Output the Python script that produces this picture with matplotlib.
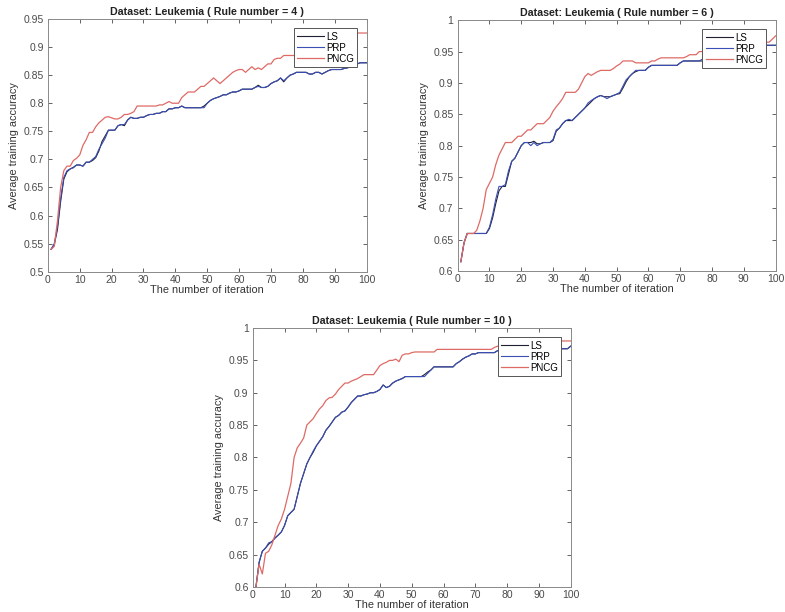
import numpy as np
import matplotlib.pyplot as plt
from matplotlib.ticker import FuncFormatter

plt.rcParams['font.family'] = ['Liberation Sans', 'DejaVu Sans']

iters = np.arange(1, 101)

# --- Rule number = 4 ---
ls_4 = [0.540, 0.548, 0.575, 0.625, 0.665, 0.678, 0.683, 0.686, 0.690, 0.690,
        0.688, 0.695, 0.695, 0.698, 0.703, 0.715, 0.732, 0.742, 0.752, 0.752,
        0.752, 0.760, 0.762, 0.760, 0.770, 0.775, 0.773, 0.773, 0.775, 0.775,
        0.778, 0.780, 0.780, 0.782, 0.782, 0.785, 0.785, 0.790, 0.790, 0.792,
        0.792, 0.795, 0.792, 0.792, 0.792, 0.792, 0.792, 0.792, 0.795, 0.800,
        0.805, 0.808, 0.810, 0.812, 0.815, 0.815, 0.818, 0.820, 0.820, 0.822,
        0.825, 0.825, 0.825, 0.825, 0.828, 0.832, 0.828, 0.828, 0.830, 0.835,
        0.838, 0.840, 0.845, 0.838, 0.845, 0.850, 0.852, 0.855, 0.855, 0.855,
        0.855, 0.852, 0.852, 0.855, 0.855, 0.852, 0.855, 0.858, 0.860, 0.860,
        0.860, 0.860, 0.862, 0.863, 0.865, 0.870, 0.870, 0.872, 0.872, 0.872]
prp_4 = [0.540, 0.550, 0.580, 0.630, 0.668, 0.680, 0.683, 0.685, 0.690, 0.690,
         0.688, 0.695, 0.695, 0.700, 0.705, 0.718, 0.728, 0.738, 0.752, 0.752,
         0.752, 0.760, 0.762, 0.762, 0.770, 0.775, 0.773, 0.773, 0.775, 0.775,
         0.778, 0.780, 0.780, 0.782, 0.782, 0.785, 0.785, 0.790, 0.790, 0.792,
         0.792, 0.795, 0.792, 0.792, 0.792, 0.792, 0.792, 0.792, 0.792, 0.800,
         0.805, 0.808, 0.810, 0.812, 0.815, 0.815, 0.818, 0.820, 0.820, 0.822,
         0.825, 0.825, 0.825, 0.825, 0.828, 0.830, 0.828, 0.828, 0.830, 0.835,
         0.838, 0.840, 0.845, 0.840, 0.845, 0.850, 0.852, 0.855, 0.855, 0.855,
         0.855, 0.852, 0.852, 0.855, 0.855, 0.852, 0.855, 0.858, 0.860, 0.860,
         0.860, 0.860, 0.862, 0.863, 0.865, 0.868, 0.870, 0.872, 0.872, 0.872]
pncg_4 = [0.540, 0.545, 0.590, 0.650, 0.680, 0.688, 0.688, 0.698, 0.702, 0.708,
          0.725, 0.735, 0.748, 0.748, 0.758, 0.765, 0.770, 0.775, 0.776, 0.774,
          0.772, 0.772, 0.775, 0.780, 0.780, 0.782, 0.785, 0.795, 0.795, 0.795,
          0.795, 0.795, 0.795, 0.795, 0.797, 0.797, 0.800, 0.803, 0.800, 0.800,
          0.800, 0.810, 0.815, 0.820, 0.820, 0.820, 0.825, 0.830, 0.830, 0.835,
          0.840, 0.845, 0.840, 0.835, 0.840, 0.845, 0.850, 0.855, 0.858, 0.860,
          0.860, 0.855, 0.860, 0.865, 0.860, 0.863, 0.860, 0.865, 0.870, 0.870,
          0.878, 0.880, 0.880, 0.885, 0.885, 0.885, 0.885, 0.885, 0.888, 0.890,
          0.892, 0.895, 0.897, 0.898, 0.900, 0.902, 0.905, 0.908, 0.910, 0.910,
          0.912, 0.915, 0.918, 0.920, 0.922, 0.925, 0.925, 0.925, 0.925, 0.925]

# --- Rule number = 6 ---
ls_6 = [0.615, 0.645, 0.660, 0.660, 0.660, 0.660, 0.660, 0.660, 0.660, 0.668,
        0.685, 0.708, 0.728, 0.735, 0.735, 0.755, 0.775, 0.780, 0.790, 0.800,
        0.805, 0.805, 0.805, 0.807, 0.803, 0.803, 0.805, 0.805, 0.805, 0.808,
        0.823, 0.828, 0.835, 0.840, 0.840, 0.840, 0.845, 0.850, 0.855, 0.860,
        0.865, 0.870, 0.875, 0.878, 0.880, 0.878, 0.878, 0.878, 0.880, 0.882,
        0.883, 0.892, 0.902, 0.910, 0.915, 0.918, 0.920, 0.920, 0.920, 0.925,
        0.928, 0.928, 0.928, 0.928, 0.928, 0.928, 0.928, 0.928, 0.928, 0.932,
        0.935, 0.935, 0.935, 0.935, 0.935, 0.935, 0.935, 0.935, 0.938, 0.940,
        0.940, 0.942, 0.945, 0.945, 0.948, 0.950, 0.950, 0.952, 0.952, 0.955,
        0.955, 0.955, 0.958, 0.958, 0.960, 0.960, 0.960, 0.960, 0.960, 0.960]
prp_6 = [0.615, 0.645, 0.660, 0.660, 0.660, 0.660, 0.660, 0.660, 0.660, 0.670,
         0.690, 0.715, 0.735, 0.735, 0.738, 0.760, 0.775, 0.780, 0.790, 0.800,
         0.805, 0.805, 0.800, 0.805, 0.800, 0.803, 0.805, 0.805, 0.805, 0.810,
         0.825, 0.828, 0.835, 0.840, 0.842, 0.840, 0.845, 0.850, 0.855, 0.860,
         0.868, 0.872, 0.875, 0.878, 0.880, 0.878, 0.875, 0.878, 0.880, 0.882,
         0.885, 0.895, 0.905, 0.910, 0.915, 0.920, 0.920, 0.920, 0.920, 0.925,
         0.928, 0.928, 0.928, 0.928, 0.928, 0.928, 0.928, 0.928, 0.928, 0.932,
         0.935, 0.935, 0.935, 0.935, 0.935, 0.935, 0.938, 0.938, 0.940, 0.940,
         0.940, 0.942, 0.945, 0.945, 0.948, 0.950, 0.950, 0.952, 0.952, 0.955,
         0.955, 0.955, 0.958, 0.958, 0.960, 0.960, 0.960, 0.960, 0.960, 0.960]
pncg_6 = [0.615, 0.645, 0.660, 0.660, 0.660, 0.665, 0.680, 0.700, 0.730, 0.740,
          0.750, 0.770, 0.785, 0.795, 0.805, 0.805, 0.805, 0.810, 0.815, 0.815,
          0.820, 0.825, 0.825, 0.830, 0.835, 0.835, 0.835, 0.840, 0.845, 0.855,
          0.862, 0.868, 0.875, 0.885, 0.885, 0.885, 0.885, 0.890, 0.900, 0.910,
          0.915, 0.912, 0.915, 0.918, 0.920, 0.920, 0.920, 0.920, 0.923, 0.927,
          0.930, 0.935, 0.935, 0.935, 0.935, 0.932, 0.932, 0.932, 0.932, 0.932,
          0.935, 0.935, 0.938, 0.940, 0.940, 0.940, 0.940, 0.940, 0.940, 0.940,
          0.940, 0.942, 0.945, 0.945, 0.945, 0.950, 0.950, 0.952, 0.953, 0.955,
          0.955, 0.956, 0.957, 0.958, 0.958, 0.958, 0.959, 0.960, 0.960, 0.960,
          0.960, 0.961, 0.962, 0.962, 0.962, 0.963, 0.965, 0.965, 0.970, 0.975]

# --- Rule number = 10 ---
ls_10 = [0.600, 0.638, 0.655, 0.660, 0.666, 0.670, 0.676, 0.680, 0.685, 0.695,
         0.710, 0.715, 0.720, 0.740, 0.760, 0.775, 0.790, 0.800, 0.808, 0.818,
         0.825, 0.832, 0.842, 0.848, 0.855, 0.862, 0.865, 0.870, 0.872, 0.878,
         0.885, 0.890, 0.895, 0.895, 0.897, 0.898, 0.900, 0.900, 0.902, 0.905,
         0.912, 0.908, 0.910, 0.915, 0.918, 0.920, 0.922, 0.925, 0.925, 0.925,
         0.925, 0.925, 0.925, 0.928, 0.932, 0.935, 0.940, 0.940, 0.940, 0.940,
         0.940, 0.940, 0.940, 0.945, 0.948, 0.952, 0.955, 0.957, 0.960, 0.960,
         0.962, 0.962, 0.962, 0.962, 0.962, 0.962, 0.965, 0.965, 0.965, 0.965,
         0.965, 0.965, 0.965, 0.966, 0.966, 0.966, 0.966, 0.967, 0.967, 0.967,
         0.967, 0.967, 0.967, 0.967, 0.968, 0.968, 0.968, 0.968, 0.968, 0.972]
prp_10 = [0.600, 0.638, 0.655, 0.660, 0.668, 0.670, 0.675, 0.680, 0.685, 0.695,
          0.710, 0.715, 0.720, 0.740, 0.760, 0.775, 0.790, 0.800, 0.810, 0.818,
          0.825, 0.832, 0.842, 0.848, 0.855, 0.862, 0.865, 0.870, 0.872, 0.878,
          0.885, 0.890, 0.895, 0.895, 0.897, 0.898, 0.900, 0.900, 0.902, 0.905,
          0.912, 0.908, 0.910, 0.915, 0.918, 0.920, 0.922, 0.925, 0.925, 0.925,
          0.925, 0.925, 0.925, 0.925, 0.930, 0.935, 0.940, 0.940, 0.940, 0.940,
          0.940, 0.940, 0.940, 0.945, 0.948, 0.952, 0.955, 0.957, 0.960, 0.960,
          0.962, 0.962, 0.962, 0.962, 0.962, 0.962, 0.965, 0.965, 0.965, 0.965,
          0.965, 0.965, 0.965, 0.966, 0.966, 0.966, 0.966, 0.967, 0.967, 0.967,
          0.967, 0.967, 0.967, 0.967, 0.968, 0.968, 0.968, 0.968, 0.968, 0.972]
pncg_10 = [0.600, 0.635, 0.620, 0.652, 0.655, 0.665, 0.680, 0.695, 0.705, 0.720,
           0.740, 0.760, 0.800, 0.815, 0.822, 0.830, 0.850, 0.855, 0.860, 0.868,
           0.875, 0.880, 0.888, 0.892, 0.893, 0.898, 0.905, 0.910, 0.915, 0.915,
           0.918, 0.920, 0.922, 0.925, 0.928, 0.928, 0.928, 0.928, 0.935, 0.942,
           0.945, 0.947, 0.950, 0.950, 0.952, 0.948, 0.958, 0.960, 0.960, 0.962,
           0.963, 0.963, 0.963, 0.963, 0.963, 0.963, 0.963, 0.967, 0.967, 0.967,
           0.967, 0.967, 0.967, 0.967, 0.967, 0.967, 0.967, 0.967, 0.967, 0.967,
           0.967, 0.967, 0.967, 0.967, 0.967, 0.970, 0.972, 0.972, 0.973, 0.974,
           0.974, 0.975, 0.975, 0.975, 0.976, 0.976, 0.976, 0.977, 0.977, 0.978,
           0.978, 0.978, 0.978, 0.979, 0.979, 0.979, 0.980, 0.980, 0.980, 0.980]

rules = [4, 6, 10]
ylims = [(0.5, 0.95), (0.6, 1.0), (0.6, 1.0)]
series = [(ls_4, prp_4, pncg_4), (ls_6, prp_6, pncg_6), (ls_10, prp_10, pncg_10)]
positions = [[0.061, 0.556, 0.406, 0.413],
             [0.583, 0.557, 0.405, 0.410],
             [0.322, 0.041, 0.405, 0.423]]

fig = plt.figure(figsize=(7.85, 6.12), dpi=100)

for rule, (lo, hi), (ls, prp, pncg), pos in zip(rules, ylims, series, positions):
    ax = fig.add_axes(pos)
    ax.plot(iters, ls, color='#202035', linewidth=0.8, label='LS')
    ax.plot(iters, prp, color='#3b4fb5', linewidth=0.8, label='PRP')
    ax.plot(iters, pncg, color='#de6a66', linewidth=0.9, label='PNCG')

    ax.set_xlim(0, 100)
    ax.set_ylim(lo, hi)
    ax.set_xticks(np.arange(0, 101, 10))
    ax.set_yticks(np.arange(lo, hi + 0.001, 0.05))
    ax.yaxis.set_major_formatter(FuncFormatter(lambda v, p: '%g' % round(v, 2)))
    ax.tick_params(direction='in', top=True, right=True, length=3, width=0.6,
                   labelsize=7.5, colors='#4a4a4a')
    ax.tick_params(axis='x', pad=2)
    ax.tick_params(axis='y', pad=3)
    for s in ax.spines.values():
        s.set_color('#8a8a8a')
        s.set_linewidth(0.7)

    ax.set_title('Dataset: Leukemia ( Rule number = %d )' % rule,
                 fontsize=7.7, fontweight='bold', color='#222222', pad=3)
    ax.set_xlabel('The number of iteration', fontsize=7.8, color='#333333', labelpad=0)
    ax.set_ylabel('Average training accuracy', fontsize=7.8, color='#333333', labelpad=3)

    leg = ax.legend(loc='upper right', fontsize=7, handlelength=2.8,
                    handletextpad=0.2, borderpad=0.35, labelspacing=0.1,
                    borderaxespad=0.95, fancybox=False, framealpha=1)
    leg.get_frame().set_edgecolor('#555555')
    leg.get_frame().set_linewidth(0.7)

plt.savefig('out.png', dpi=100)
